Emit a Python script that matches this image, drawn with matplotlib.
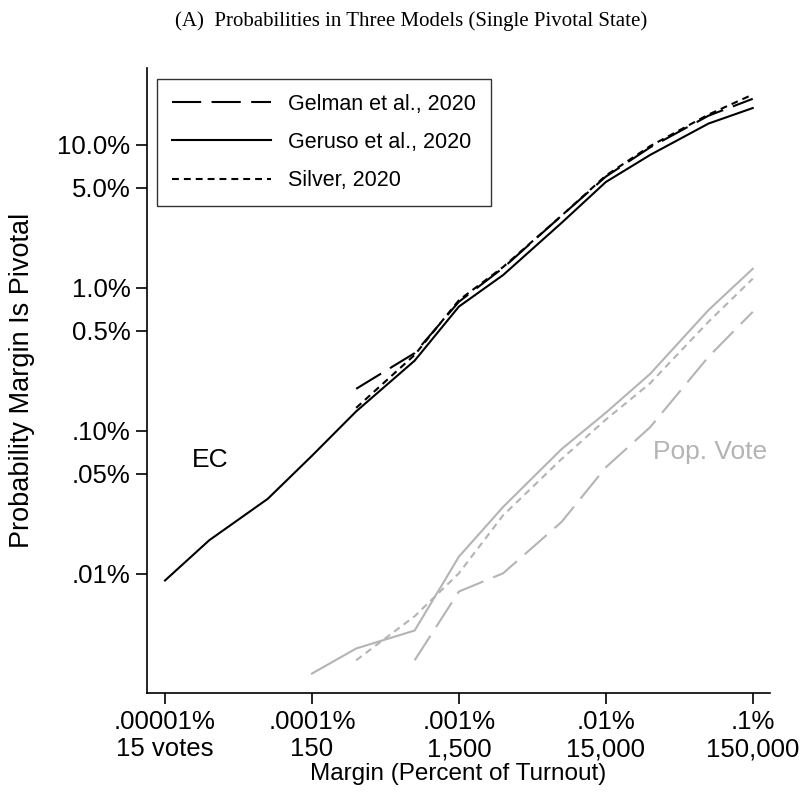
#!/usr/bin/env python3
import numpy as np
import matplotlib
matplotlib.use('Agg')
import matplotlib.pyplot as plt

nan = np.nan

# margin as percent of turnout
margin_pct = [1e-5, 2e-5, 5e-5, 1e-4, 2e-4, 5e-4, 1e-3, 2e-3, 5e-3, 1e-2, 2e-2, 5e-2, 1e-1]

# probability (percent) the margin is pivotal -- electoral college
geruso_ec = [0.0090, 0.0172, 0.0335, 0.067, 0.137, 0.31, 0.74, 1.23, 2.85, 5.5, 8.5, 14.1, 18.1]
gelman_ec = [nan, nan, nan, nan, 0.197, 0.35, 0.80, 1.38, 3.2, 6.0, 9.6, 16.0, 21.0]
silver_ec = [nan, nan, nan, nan, 0.145, 0.34, 0.82, 1.40, 3.2, 6.1, 9.8, 16.3, 22.5]

# popular vote
geruso_pop = [nan, nan, nan, 0.00201, 0.00301, 0.00402, 0.0132, 0.0294, 0.0746, 0.134, 0.250, 0.70, 1.36]
gelman_pop = [nan, nan, nan, nan, nan, 0.00249, 0.00753, 0.0101, 0.0231, 0.0556, 0.106, 0.33, 0.68]
silver_pop = [nan, nan, nan, nan, 0.00249, 0.00506, 0.0101, 0.0257, 0.0636, 0.120, 0.215, 0.58, 1.16]

xticks = [1e-5, 1e-4, 1e-3, 1e-2, 1e-1]
xtick_labels = ['.00001%\n15 votes', '.0001%\n150', '.001%\n1,500', '.01%\n15,000', '.1%\n150,000']
yticks = [0.01, 0.05, 0.1, 0.5, 1, 5, 10]
ytick_labels = ['.01%', '.05%', '.10%', '0.5%', '1.0%', '5.0%', '10.0%']

plt.rcParams['font.family'] = ['Liberation Sans', 'DejaVu Sans']

GRAY = '#b4b4b4'
LONG = (14, 5)
SHORT = (3.3, 2.4)
LW = 1.5

fig = plt.figure(figsize=(8.06, 7.97), dpi=100)
ax = fig.add_axes([0.1824, 0.1305, 0.7726, 0.7842])
ax.set_xscale('log')
ax.set_yscale('log')

ax.plot(margin_pct, gelman_ec, color='black', lw=LW, dashes=LONG, label='Gelman et al., 2020')
ax.plot(margin_pct, geruso_ec, color='black', lw=LW, label='Geruso et al., 2020')
ax.plot(margin_pct, silver_ec, color='black', lw=LW, dashes=SHORT, label='Silver, 2020')

ax.plot(margin_pct, gelman_pop, color=GRAY, lw=LW, dashes=LONG)
ax.plot(margin_pct, geruso_pop, color=GRAY, lw=LW)
ax.plot(margin_pct, silver_pop, color=GRAY, lw=LW, dashes=SHORT)

ax.set_xlim(7.54e-6, 0.1305)
ax.set_ylim(0.00147, 34.5)

ax.set_xticks(xticks)
ax.set_xticklabels(xtick_labels)
ax.set_yticks(yticks)
ax.set_yticklabels(ytick_labels)
ax.minorticks_off()
ax.tick_params(axis='both', direction='out', length=8, width=1.2, labelsize=18.5, pad=4)

for side in ['top', 'right']:
    ax.spines[side].set_visible(False)
for side in ['left', 'bottom']:
    ax.spines[side].set_linewidth(1.2)

ax.set_xlabel('Margin (Percent of Turnout)', fontsize=17.5, labelpad=1)
ax.set_ylabel('Probability Margin Is Pivotal', fontsize=19.5, labelpad=16)

ax.text(2.02e-5, 0.0627, 'EC', fontsize=19, ha='center', va='center')
ax.text(0.0509, 0.0713, 'Pop. Vote', fontsize=19, color=GRAY, ha='center', va='center')

leg = ax.legend(loc='upper left', bbox_to_anchor=(0.016, 0.983), fontsize=15.5,
                frameon=True, fancybox=False, handlelength=4.6, handletextpad=0.8,
                labelspacing=0.8, borderpad=0.7, borderaxespad=0)
leg.get_frame().set_edgecolor('black')
leg.get_frame().set_linewidth(1.0)

fig.text(0.51, 0.974, '(A)  Probabilities in Three Models (Single Pivotal State)',
         family='Liberation Serif', fontsize=15, ha='center', va='center')

fig.savefig('out.png', dpi=100)
